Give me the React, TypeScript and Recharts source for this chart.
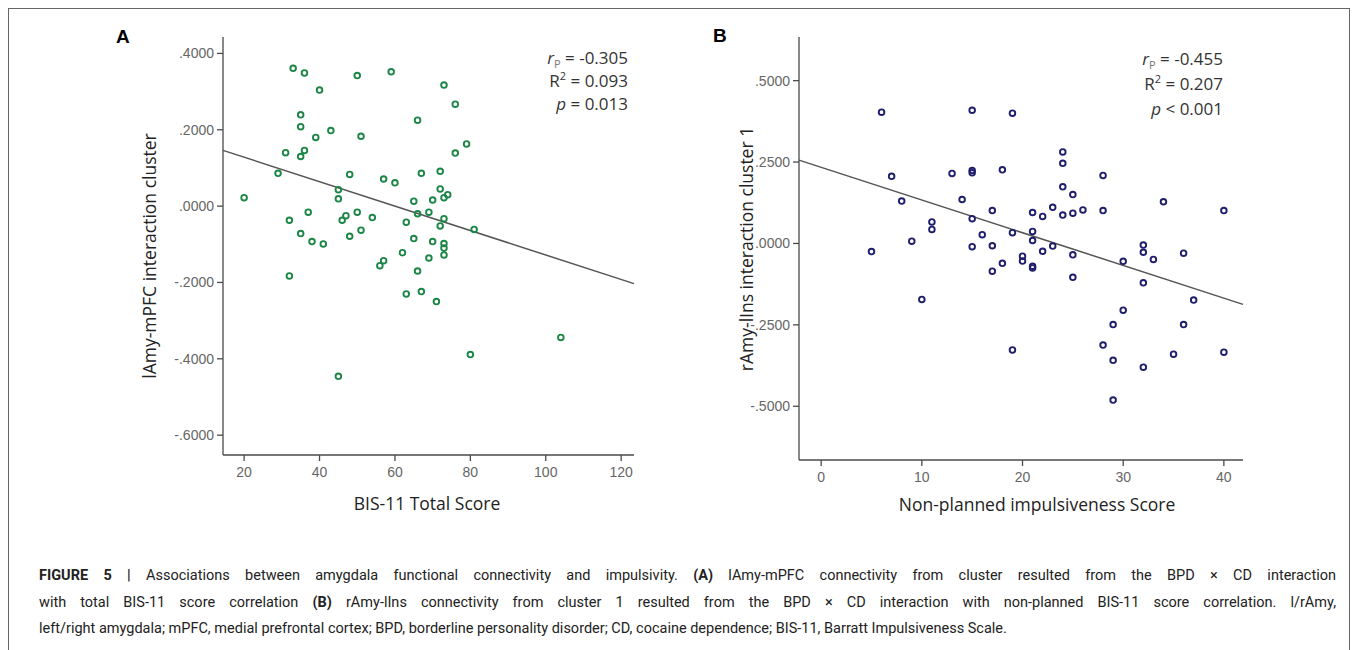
import React from 'react';
import { ScatterChart, Scatter, XAxis, YAxis, ReferenceLine } from 'recharts';

// Panel A: BIS-11 total score vs lAmy-mPFC connectivity
const pointsA = [
  { x: 33, y: 0.361 }, { x: 36, y: 0.349 }, { x: 50, y: 0.342 }, { x: 40, y: 0.304 },
  { x: 35, y: 0.239 }, { x: 35, y: 0.208 }, { x: 43, y: 0.198 }, { x: 39, y: 0.18 },
  { x: 51, y: 0.183 }, { x: 31, y: 0.14 }, { x: 36, y: 0.146 }, { x: 35, y: 0.13 },
  { x: 29, y: 0.086 }, { x: 48, y: 0.083 }, { x: 57, y: 0.071 }, { x: 20, y: 0.022 },
  { x: 45, y: 0.043 }, { x: 45, y: 0.019 }, { x: 32, y: -0.037 }, { x: 37, y: -0.016 },
  { x: 46, y: -0.037 }, { x: 47, y: -0.025 }, { x: 50, y: -0.016 }, { x: 54, y: -0.03 },
  { x: 35, y: -0.072 }, { x: 51, y: -0.063 }, { x: 38, y: -0.093 }, { x: 41, y: -0.099 },
  { x: 48, y: -0.079 }, { x: 32, y: -0.183 }, { x: 59, y: 0.352 }, { x: 73, y: 0.317 },
  { x: 76, y: 0.267 }, { x: 66, y: 0.225 }, { x: 79, y: 0.163 }, { x: 76, y: 0.139 },
  { x: 60, y: 0.061 }, { x: 67, y: 0.086 }, { x: 72, y: 0.091 }, { x: 72, y: 0.045 },
  { x: 73, y: 0.022 }, { x: 74, y: 0.03 }, { x: 65, y: 0.013 }, { x: 70, y: 0.016 },
  { x: 66, y: -0.02 }, { x: 69, y: -0.016 }, { x: 73, y: -0.033 }, { x: 63, y: -0.042 },
  { x: 72, y: -0.052 }, { x: 81, y: -0.061 }, { x: 65, y: -0.085 }, { x: 70, y: -0.093 },
  { x: 73, y: -0.098 }, { x: 73, y: -0.11 }, { x: 73, y: -0.128 }, { x: 62, y: -0.122 },
  { x: 69, y: -0.136 }, { x: 57, y: -0.143 }, { x: 56, y: -0.156 }, { x: 66, y: -0.17 },
  { x: 63, y: -0.23 }, { x: 67, y: -0.224 }, { x: 71, y: -0.25 }, { x: 104, y: -0.344 },
  { x: 80, y: -0.389 }, { x: 45, y: -0.446 },
];
const fitA = [{ x: 14.4, y: 0.146 }, { x: 123.4, y: -0.203 }];
const xTicksA = [20, 40, 60, 80, 100, 120];
const yTicksA = [0.4, 0.2, 0, -0.2, -0.4, -0.6];
const statsA = ['-0.305', '0.093', '= 0.013'];

// Panel B: non-planned impulsiveness vs rAmy-lIns connectivity
const pointsB = [
  { x: 6, y: 0.403 }, { x: 15, y: 0.409 }, { x: 19, y: 0.4 }, { x: 7, y: 0.206 },
  { x: 13, y: 0.215 }, { x: 15, y: 0.224 }, { x: 15, y: 0.217 }, { x: 18, y: 0.226 },
  { x: 8, y: 0.13 }, { x: 14, y: 0.135 }, { x: 17, y: 0.101 }, { x: 15, y: 0.076 },
  { x: 11, y: 0.066 }, { x: 11, y: 0.043 }, { x: 19, y: 0.033 }, { x: 16, y: 0.027 },
  { x: 9, y: 0.007 }, { x: 5, y: -0.025 }, { x: 15, y: -0.01 }, { x: 17, y: -0.007 },
  { x: 18, y: -0.061 }, { x: 17, y: -0.085 }, { x: 24, y: 0.281 }, { x: 24, y: 0.246 },
  { x: 28, y: 0.209 }, { x: 24, y: 0.174 }, { x: 25, y: 0.15 }, { x: 34, y: 0.128 },
  { x: 40, y: 0.101 }, { x: 21, y: 0.095 }, { x: 22, y: 0.083 }, { x: 23, y: 0.111 },
  { x: 24, y: 0.087 }, { x: 25, y: 0.093 }, { x: 26, y: 0.103 }, { x: 28, y: 0.101 },
  { x: 21, y: 0.037 }, { x: 21, y: 0.009 }, { x: 22, y: -0.024 }, { x: 23, y: -0.008 },
  { x: 25, y: -0.035 }, { x: 20, y: -0.039 }, { x: 20, y: -0.054 }, { x: 21, y: -0.07 },
  { x: 21, y: -0.075 }, { x: 30, y: -0.055 }, { x: 32, y: -0.005 }, { x: 32, y: -0.027 },
  { x: 33, y: -0.049 }, { x: 36, y: -0.03 }, { x: 25, y: -0.104 }, { x: 32, y: -0.121 },
  { x: 37, y: -0.174 }, { x: 30, y: -0.205 }, { x: 29, y: -0.249 }, { x: 36, y: -0.249 },
  { x: 19, y: -0.327 }, { x: 28, y: -0.312 }, { x: 29, y: -0.359 }, { x: 35, y: -0.34 },
  { x: 40, y: -0.334 }, { x: 32, y: -0.38 }, { x: 29, y: -0.481 }, { x: 10, y: -0.172 },
];
const fitB = [{ x: -2.2, y: 0.256 }, { x: 41.9, y: -0.187 }];
const xTicksB = [0, 10, 20, 30, 40];
const yTicksB = [0.5, 0.25, 0, -0.25, -0.5];
const statsB = ['-0.455', '0.207', '< 0.001'];

const GREEN = '#1c8646';
const NAVY = '#1f1e6c';
const AXIS = '#4a4a4a';
const SANS = '"Open Sans", "DejaVu Sans", sans-serif';
const TICKFONT = '"Liberation Sans", Arial, sans-serif';

// SPSS style labels: ".4000", "-.2000"
const fmtY = (v: number) => {
  const s = Math.abs(v).toFixed(4).replace(/^0/, '');
  return v < 0 ? '-' + s : s;
};

const ring = (color: string) => (props: any) => (
  <circle cx={props.cx} cy={props.cy} r={2.8} fill="none" stroke={color} strokeWidth={1.9} />
);

const tickStyle = { fontSize: 14, fill: '#666', fontFamily: TICKFONT };

const subStyle: React.CSSProperties = { fontSize: 11, color: '#777', position: 'relative', top: 4, lineHeight: 0 };
const supStyle: React.CSSProperties = { fontSize: 11, position: 'relative', top: -7, lineHeight: 0 };

const Stats: React.FC<{ vals: string[]; right: number; top: number; gap: number }> = ({ vals, right, top, gap }) => (
  <div style={{ position: 'absolute', left: right - 200, top, width: 200, textAlign: 'right', fontFamily: SANS, fontSize: 17, color: '#333', lineHeight: `${gap}px` }}>
    <div><i>r</i><span style={subStyle}>P</span> = {vals[0]}</div>
    <div>R<span style={supStyle}>2</span> = {vals[1]}</div>
    <div><i>p</i> {vals[2]}</div>
  </div>
);

const App: React.FC = () => {
  return (
    <div style={{ position: 'relative', width: 1342, height: 642, borderTop: '1.5px solid #666', borderLeft: '1.5px solid #666', borderRight: '1.5px solid #666', boxSizing: 'border-box', background: '#fff' }}>
      {/* panel letters */}
      <div style={{ position: 'absolute', left: 107, top: 17, fontFamily: TICKFONT, fontWeight: 'bold', fontSize: 19 }}>A</div>
      <div style={{ position: 'absolute', left: 704, top: 16, fontFamily: TICKFONT, fontWeight: 'bold', fontSize: 19 }}>B</div>

      <div style={{ position: 'absolute', left: 92, top: 0 }}>
        <ScatterChart width={560} height={520} margin={{ top: 28, right: 27, bottom: 44, left: 62 }}>
          <XAxis type="number" dataKey="x" domain={[14.4, 123.4]} ticks={xTicksA} allowDataOverflow
            stroke={AXIS} strokeWidth={1.3} tick={tickStyle} tickSize={6} tickMargin={6} height={30} />
          <YAxis type="number" dataKey="y" domain={[-0.652, 0.443]} ticks={yTicksA} allowDataOverflow
            stroke={AXIS} strokeWidth={1.3} tick={tickStyle} tickSize={6} tickMargin={3} width={60} tickFormatter={fmtY} />
          <ReferenceLine segment={fitA} stroke="#555" strokeWidth={1.5} ifOverflow="visible" />
          <Scatter data={pointsA} shape={ring(GREEN)} isAnimationActive={false} />
        </ScatterChart>
      </div>

      <div style={{ position: 'absolute', left: 672, top: 0 }}>
        <ScatterChart width={600} height={520} margin={{ top: 28, right: 38, bottom: 39, left: 58 }}>
          <XAxis type="number" dataKey="x" domain={[-2.2, 41.9]} ticks={xTicksB} allowDataOverflow
            stroke={AXIS} strokeWidth={1.3} tick={tickStyle} tickSize={6} tickMargin={6} height={30} />
          <YAxis type="number" dataKey="y" domain={[-0.665, 0.634]} ticks={yTicksB} allowDataOverflow
            stroke={AXIS} strokeWidth={1.3} tick={tickStyle} tickSize={6} tickMargin={3} width={60} tickFormatter={fmtY} />
          <ReferenceLine segment={fitB} stroke="#555" strokeWidth={1.5} ifOverflow="visible" />
          <Scatter data={pointsB} shape={ring(NAVY)} isAnimationActive={false} />
        </ScatterChart>
      </div>

      {/* axis titles */}
      <div style={{ position: 'absolute', left: 140 - 200, top: 247 - 12, width: 400, textAlign: 'center', transform: 'rotate(-90deg)', fontFamily: SANS, fontSize: 17.5, color: '#222' }}>lAmy-mPFC interaction cluster</div>
      <div style={{ position: 'absolute', left: 418 - 200, top: 482, width: 400, textAlign: 'center', fontFamily: SANS, fontSize: 17.5, color: '#222' }}>BIS-11 Total Score</div>
      <div style={{ position: 'absolute', left: 737 - 200, top: 240 - 12, width: 400, textAlign: 'center', transform: 'rotate(-90deg)', fontFamily: SANS, fontSize: 17.5, color: '#222' }}>rAmy-lIns interaction cluster 1</div>
      <div style={{ position: 'absolute', left: 1028 - 200, top: 483, width: 400, textAlign: 'center', fontFamily: SANS, fontSize: 17.5, color: '#222' }}>Non-planned impulsiveness Score</div>

      <Stats vals={statsA} right={619} top={37} gap={23} />
      <Stats vals={statsB} right={1214} top={37} gap={25} />

      {/* caption */}
      <div style={{ position: 'absolute', left: 30, top: 554, width: 1297, fontFamily: 'Roboto, sans-serif', fontSize: 14.5, color: '#222', lineHeight: '26.5px', whiteSpace: 'nowrap' }}>
        <div style={{ textAlign: 'justify', textAlignLast: 'justify', whiteSpace: 'normal' }}>
          <b>FIGURE 5 |</b> Associations between amygdala functional connectivity and impulsivity. <b>(A)</b> lAmy-mPFC connectivity from cluster resulted from the BPD × CD interaction
        </div>
        <div style={{ textAlign: 'justify', textAlignLast: 'justify', whiteSpace: 'normal' }}>
          with total BIS-11 score correlation <b>(B)</b> rAmy-lIns connectivity from cluster 1 resulted from the BPD × CD interaction with non-planned BIS-11 score correlation. l/rAmy,
        </div>
        <div>
          left/right amygdala; mPFC, medial prefrontal cortex; BPD, borderline personality disorder; CD, cocaine dependence; BIS-11, Barratt Impulsiveness Scale.
        </div>
      </div>
    </div>
  );
};

export default App;
